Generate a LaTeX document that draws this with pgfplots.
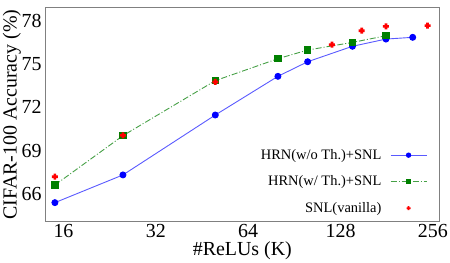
\documentclass[border=0pt]{standalone}
\usepackage{fontspec}
\setmainfont{Liberation Serif}
\usepackage{pgfplots}
\pgfplotsset{compat=1.18}
\pgfdeclareplotmark{fplus}{%
 \pgfpathmoveto{\pgfqpoint{-0.45\pgfplotmarksize}{\pgfplotmarksize}}%
 \pgfpathlineto{\pgfqpoint{0.45\pgfplotmarksize}{\pgfplotmarksize}}%
 \pgfpathlineto{\pgfqpoint{0.45\pgfplotmarksize}{0.45\pgfplotmarksize}}%
 \pgfpathlineto{\pgfqpoint{\pgfplotmarksize}{0.45\pgfplotmarksize}}%
 \pgfpathlineto{\pgfqpoint{\pgfplotmarksize}{-0.45\pgfplotmarksize}}%
 \pgfpathlineto{\pgfqpoint{0.45\pgfplotmarksize}{-0.45\pgfplotmarksize}}%
 \pgfpathlineto{\pgfqpoint{0.45\pgfplotmarksize}{-\pgfplotmarksize}}%
 \pgfpathlineto{\pgfqpoint{-0.45\pgfplotmarksize}{-\pgfplotmarksize}}%
 \pgfpathlineto{\pgfqpoint{-0.45\pgfplotmarksize}{-0.45\pgfplotmarksize}}%
 \pgfpathlineto{\pgfqpoint{-\pgfplotmarksize}{-0.45\pgfplotmarksize}}%
 \pgfpathlineto{\pgfqpoint{-\pgfplotmarksize}{0.45\pgfplotmarksize}}%
 \pgfpathlineto{\pgfqpoint{-0.45\pgfplotmarksize}{0.45\pgfplotmarksize}}%
 \pgfpathclose
 \pgfusepathqfill
}
\definecolor{bline}{RGB}{90,90,255}
\definecolor{gline}{RGB}{70,160,70}
\definecolor{gmark}{RGB}{0,128,0}
\pgfplotsset{
 lineleg/.style={legend image code/.code={\draw[mark repeat=2,mark phase=2,##1, mark size=2.2bp] plot coordinates {(0bp,0bp)(18bp,0bp)(36bp,0bp)};}},
 markleg/.style={legend image code/.code={\draw[##1, mark size=2bp] plot[only marks] coordinates {(18bp,0bp)};}},
}
\begin{document}
\begin{tikzpicture}
\begin{axis}[
 scale only axis, width=393.3bp, height=214.4bp,
 xmode=log, log basis x=2, xmin=14, xmax=268, ymin=64.08, ymax=78.93,
 xtick={16,32,64,128,256}, xticklabels={16,32,64,128,256},
 minor xtick={}, ytick={66,69,72,75,78},
 major tick length=0pt, minor tick length=0pt,
 axis line style={draw=gray, line width=0.8bp},
 tick label style={font=\fontsize{20}{24}\selectfont},
 /pgf/number format/assume math mode=true,
 xticklabel style={inner sep=0pt, anchor=north, yshift=-2.3bp},
 yticklabel style={inner sep=0pt, anchor=east, xshift=-4bp},
 xlabel={\#ReLUs (K)}, ylabel={CIFAR-100 Accuracy (\%)},
 label style={font=\fontsize{20}{24}\selectfont},
 xlabel style={at={(axis description cs:0.5,-0.1586)}, anchor=base, inner sep=0pt},
 ylabel style={at={(axis description cs:-0.07424,0.5)}, anchor=base, inner sep=0pt},
 legend style={draw=none, fill=none, inner sep=0pt, outer sep=0pt,
   at={(axis description cs:0.9695,0.1866)}, anchor=east,
   font=\fontsize{14.5}{17}\selectfont, row sep=15bp, column sep=8.7bp,
   nodes={inner sep=0pt}},
 legend cell align=right, legend plot pos=right,
]
\addplot[lineleg, draw=bline, line width=0.9bp, mark=*, mark size=3bp, mark options={solid, draw=blue, fill=blue}]
 coordinates {(15,65.40)(25,67.32)(50,71.47)(80,74.15)(100,75.16)(140,76.23)(180,76.73)(220,76.85)};
\addlegendentry{HRN(w/o Th.)+SNL}
\addplot[lineleg, draw=gline, line width=0.9bp, dash pattern=on 6bp off 2bp on 1bp off 2bp, mark=square*, mark size=3.2bp, mark options={solid, draw=gmark, fill=gmark}]
 coordinates {(15,66.62)(25,70.04)(50,73.85)(80,75.37)(100,75.97)(140,76.50)(180,76.96)};
\addlegendentry{HRN(w/ Th.)+SNL}
\addplot[only marks, markleg, mark=fplus, mark size=3bp, color=red, fill=red]
 coordinates {(15,67.20)(25,70.06)(50,73.76)(120,76.34)(150,77.31)(180,77.61)(246,77.66)};
\addlegendentry{SNL(vanilla)}
\end{axis}
\path (-45.7bp,-41.3bp) rectangle (404.3bp,221.7bp);
\end{tikzpicture}
\end{document}
